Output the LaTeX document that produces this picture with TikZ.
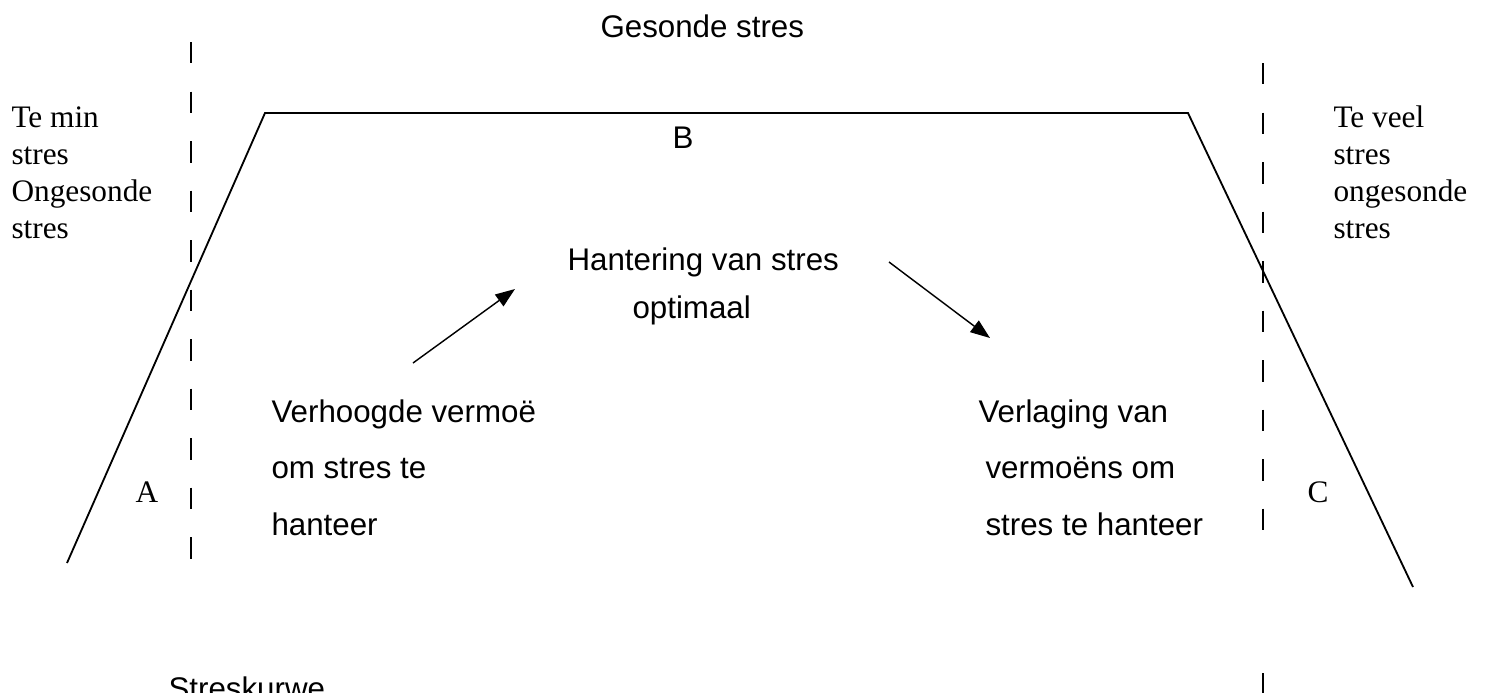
\documentclass[tikz,border=0pt]{standalone}
\usepackage{fontspec}
\setmainfont{Liberation Serif}
\setsansfont{Liberation Sans}
\usetikzlibrary{arrows.meta}

\tikzset{
  serif/.style={font={\rmfamily\fontsize{12}{14.1}\selectfont}, align=left, inner sep=0pt, anchor=base west},
  sans/.style={font={\sffamily\fontsize{12}{21.5}\selectfont}, align=left, inner sep=0pt, anchor=base west},
  curve/.style={line width=0.7pt, line join=miter},
  divider/.style={line width=0.75pt, dash pattern=on 8.24pt off 10.74pt},
  pointer/.style={line width=0.55pt, -{Triangle[length=7.5pt,width=5.5pt]}},
}

\begin{document}
\begin{tikzpicture}[x=0.3834pt, y=-0.3834pt]
    \useasboundingbox (0,0) rectangle (1486,693);
    % the stress curve
    \coordinate (lowA) at (67,563);
    \coordinate (topA) at (265,113);
    \coordinate (topC) at (1188,113);
    \coordinate (lowC) at (1413,587);
    \draw[curve] (lowA) -- (topA) -- (topC) -- (lowC);
    % zone borders
    \coordinate (leftTop) at (191,42);
    \coordinate (leftBot) at (191,559);
    \coordinate (rightTop) at (1263,63);
    \coordinate (rightBot) at (1263,534);
    \coordinate (rightFoot) at (1263,673);
    \coordinate (rightEnd) at (1263,700);
    \draw[divider] (leftTop) -- (leftBot);
    \draw[divider] (rightTop) -- (rightBot);
    \draw[divider] (rightFoot) -- (rightEnd);
    % labels (multi-line ones sit on their last baseline)
    \node[sans] (gesond) at (600,37) {Gesonde stres};
    \node[sans] (B) at (672,148) {B};
    \node[sans] (hantering) at (567,270) {Hantering van stres};
    \node[sans] (optimaal) at (632,318) {optimaal};
    \node[sans] (verhoog) at (271,535) {Verhoogde vermoë\\om stres te\\hanteer};
    \node[sans] (verlaag) at (978,535) {Verlaging van\\\hspace*{2.7pt}vermoëns om\\\hspace*{2.7pt}stres te hanteer};
    \node[serif] (temin) at (11,238) {Te min\\stres\\Ongesonde\\stres};
    \node[serif] (teveel) at (1333,238) {Te veel\\stres\\ongesonde\\stres};
    \node[serif] (A) at (135,502) {A};
    \node[serif] (C) at (1307,502) {C};
    \node[sans] (kurwe) at (168,699) {Streskurwe};
    % arrows
    \coordinate (upFrom) at (413,363);
    \coordinate (upTo) at (515,289);
    \coordinate (downFrom) at (889,262);
    \coordinate (downTo) at (990,338);
    \draw[pointer] (upFrom) -- (upTo);
    \draw[pointer] (downFrom) -- (downTo);
\end{tikzpicture}
\end{document}
